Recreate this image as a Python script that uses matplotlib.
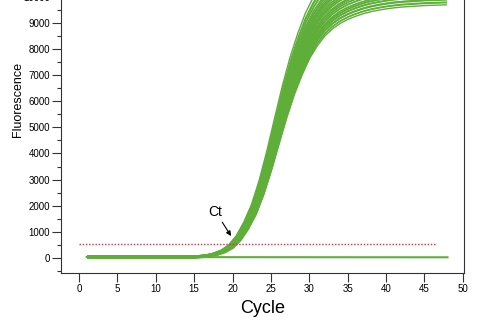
import numpy as np
import matplotlib
matplotlib.use('Agg')
import matplotlib.pyplot as plt
from matplotlib.patches import Rectangle

plt.rcParams['font.family'] = ['Liberation Sans', 'DejaVu Sans']

# amplification profile (fraction of plateau), cycles 0..49
profile_cycles = list(range(0, 50))
profile = [0.002, 0.002, 0.002, 0.002, 0.002, 0.002, 0.002, 0.002, 0.002, 0.002,
           0.002, 0.002, 0.002, 0.002, 0.002, 0.0025, 0.004, 0.007, 0.013, 0.023,
           0.040, 0.070, 0.115, 0.172, 0.250, 0.345, 0.450, 0.553, 0.645, 0.722,
           0.788, 0.838, 0.877, 0.905, 0.926, 0.942, 0.954, 0.964, 0.972, 0.978,
           0.983, 0.987, 0.990, 0.992, 0.994, 0.996, 0.997, 0.998, 0.999, 1.000]

# one entry per well: plateau fluorescence, cycle offset, baseline offset
plateaus = [9750, 9790, 9840, 9880, 9930, 9960, 10010, 10050, 10090, 10140,
            10180, 10230, 10270, 10310, 10360, 10400, 10450, 10490, 10540, 10580,
            10630, 10680, 10720, 10770, 10820, 10870, 10910, 10960, 11010, 11060,
            11120, 11170, 11230, 11290, 11360, 11430, 11510, 11600, 11720, 11900]
ct_offsets = [0.05, 0.0, 0.08, -0.02, 0.03, -0.05, 0.0, -0.08, -0.03, -0.1,
              -0.06, -0.12, -0.09, -0.15, -0.1, -0.18, -0.14, -0.2, -0.16, -0.22,
              -0.19, -0.25, -0.21, -0.27, -0.24, -0.3, -0.26, -0.32, -0.29, -0.35,
              -0.31, -0.37, -0.34, -0.4, -0.38, -0.43, -0.41, -0.46, -0.48, -0.52]
baselines = [-30, 10, -15, 25, 0, -25, 15, -5, 30, -20,
             5, -35, 20, -10, 35, -25, 10, 0, -15, 25,
             -5, 30, -30, 15, -20, 5, 35, -10, 20, -35,
             0, 25, -15, 10, -25, 30, -5, 15, -20, 5]

# no template control
ntc_cycles = list(range(1, 49))
ntc_fluor = [25, 24, 24, 23, 23, 22, 22, 22, 21, 21, 21, 20, 20, 20, 20, 19,
             19, 19, 19, 18, 18, 18, 18, 18, 17, 17, 17, 17, 17, 16, 16, 16,
             16, 16, 16, 15, 15, 15, 15, 15, 15, 15, 14, 14, 14, 14, 14, 14]

threshold = 540
threshold_start, threshold_end = 0, 46.4
ct_label_pos = (17.8, 1760)
ct_arrow_tip = (19.8, 830)

green = '#5fae3a'

fig = plt.figure(figsize=(4.91, 3.27), dpi=100)
ax = fig.add_axes([0.1242, 0.1651, 0.8208, 0.8832])

prof = np.array(profile)
cyc = np.array(profile_cycles)
for p, s, b in zip(plateaus, ct_offsets, baselines):
    line, = ax.plot(cyc + s, prof * p + b, color=green, lw=1.0)
    clip = Rectangle((1, -2000), 47, 30000, transform=ax.transData)
    line.set_clip_path(clip)

ax.plot(ntc_cycles, ntc_fluor, color=green, lw=1.5)

ax.plot([threshold_start, threshold_end], [threshold, threshold],
        color='#c0394a', lw=1.0, linestyle=(0, (1, 1.3)))

ax.annotate('Ct', xy=ct_arrow_tip, xytext=ct_label_pos, fontsize=10,
            ha='center', va='center',
            arrowprops=dict(arrowstyle='-|>', color='black', lw=0.8,
                            mutation_scale=7, shrinkA=0.5, shrinkB=0))

ax.set_xlim(-2.35, 50.15)
ax.set_ylim(-590, 10500)
ax.set_xticks(range(0, 51, 5))
ax.set_yticks(range(0, 10001, 1000))
ax.set_yticks(range(-500, 10501, 500), minor=True)
ax.tick_params(axis='both', which='major', labelsize=7, length=6.5, width=0.8,
               pad=1.5, color='#333333')
ax.tick_params(axis='y', which='minor', length=3.2, width=0.8, color='#333333')
ax.spines['top'].set_visible(False)
for side in ['left', 'right', 'bottom']:
    ax.spines[side].set_color('#333333')
    ax.spines[side].set_linewidth(0.8)

ax.set_xlabel('Cycle', fontsize=13, labelpad=4)
ax.set_ylabel('Fluorescence', fontsize=9)
ax.yaxis.set_label_coords(-0.093, 0.6)

fig.savefig('out.png', dpi=100)
